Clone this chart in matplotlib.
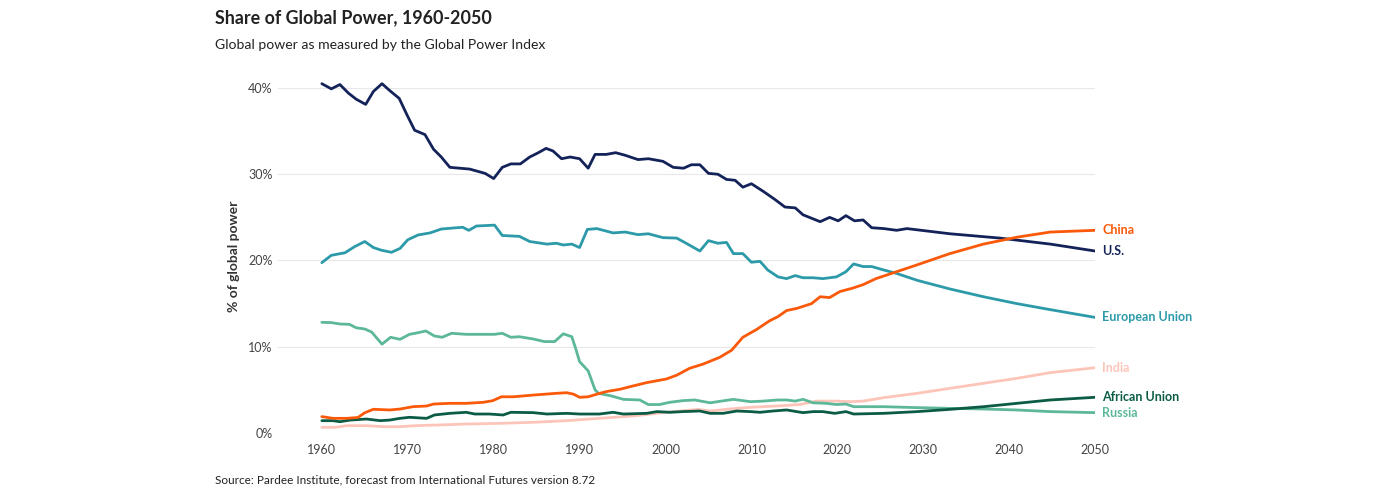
import matplotlib.pyplot as plt
from matplotlib.ticker import FuncFormatter

plt.rcParams['font.family'] = ['Lato', 'DejaVu Sans']

us_years = [1960, 1961.1, 1962.1, 1963.1, 1964, 1965.1, 1966, 1967, 1967.9, 1969, 1969.9, 1970.8, 1972, 1973,
            1973.9, 1974.9, 1977.2, 1979, 1980, 1981, 1982, 1983.1, 1984.2, 1985.2, 1986.1, 1986.9, 1987.9,
            1988.9, 1990, 1991, 1991.8, 1993.1, 1994.2, 1995.3, 1996.8, 1998, 1999.7, 2000.9, 2002.1, 2003,
            2004, 2005, 2006.1, 2007.1, 2008.1, 2009, 2010, 2011.4, 2012.7, 2013.9, 2015.1, 2016, 2017, 2018,
            2019.1, 2020.1, 2021, 2022, 2023, 2024, 2025.4, 2026.9, 2028.1, 2033.1, 2038.9, 2044.8, 2050]
us_vals = [40.5, 39.9, 40.4, 39.4, 38.7, 38.1, 39.6, 40.5, 39.7, 38.8, 36.9, 35.1, 34.6, 32.9, 32.0, 30.8,
           30.6, 30.1, 29.5, 30.8, 31.2, 31.2, 32.0, 32.5, 33.0, 32.7, 31.8, 32.0, 31.8, 30.7, 32.3, 32.3,
           32.5, 32.2, 31.7, 31.8, 31.5, 30.8, 30.7, 31.1, 31.1, 30.1, 30.0, 29.4, 29.3, 28.5, 28.9, 28.0,
           27.1, 26.2, 26.1, 25.3, 24.9, 24.5, 25.0, 24.6, 25.2, 24.6, 24.7, 23.8, 23.7, 23.5, 23.7, 23.1,
           22.6, 21.9, 21.1]

eu_years = [1960, 1961.1, 1962.7, 1963.8, 1965, 1966, 1966.9, 1968.1, 1969.1, 1970, 1971.2, 1972.6, 1973.9,
            1975.7, 1976.4, 1977.1, 1978, 1980.1, 1981, 1983, 1984.2, 1986.2, 1987.3, 1988.1, 1989.1, 1990,
            1990.9, 1992, 1993.9, 1995.3, 1996.8, 1998, 1999.7, 2001.3, 2002.4, 2004, 2005, 2006.1, 2007.1,
            2007.9, 2009, 2010, 2011, 2011.9, 2013.1, 2014.1, 2015.1, 2016, 2017.2, 2018.3, 2019.9, 2021,
            2021.9, 2023, 2024, 2025.4, 2026.9, 2029.3, 2033.1, 2037, 2040.9, 2044.8, 2050]
eu_vals = [19.75, 20.6, 20.9, 21.6, 22.2, 21.5, 21.2, 20.95, 21.4, 22.4, 22.96, 23.2, 23.65, 23.8, 23.85,
           23.5, 24.0, 24.1, 22.9, 22.8, 22.2, 21.9, 22.0, 21.8, 21.9, 21.5, 23.6, 23.7, 23.2, 23.3, 23.0,
           23.1, 22.65, 22.6, 22.0, 21.1, 22.3, 22.0, 22.1, 20.8, 20.8, 19.8, 19.9, 18.9, 18.1, 17.9, 18.25,
           18.0, 18.0, 17.9, 18.1, 18.7, 19.6, 19.3, 19.3, 18.9, 18.5, 17.7, 16.7, 15.8, 15.0, 14.3, 13.4]

china_years = [1960, 1961.3, 1962.9, 1964.2, 1965, 1966, 1967.9, 1969.1, 1970.6, 1972.2, 1973, 1974.9, 1976.8,
               1978.8, 1979.9, 1980.9, 1982.3, 1984.6, 1987.3, 1988.5, 1989.3, 1990, 1991, 1992, 1993.1,
               1994.7, 1996.2, 1997.8, 2000.1, 2001.3, 2002.8, 2004.4, 2006.3, 2007.7, 2009, 2010.6, 2012.1,
               2013.1, 2014.1, 2015.3, 2017, 2018, 2019.1, 2020.3, 2021.8, 2023, 2024.5, 2026.9, 2029.3,
               2033.1, 2037, 2040.9, 2044.8, 2050]
china_vals = [1.9, 1.7, 1.7, 1.8, 2.35, 2.75, 2.67, 2.78, 3.05, 3.13, 3.36, 3.44, 3.44, 3.56, 3.75, 4.2, 4.2,
              4.4, 4.6, 4.67, 4.5, 4.14, 4.2, 4.5, 4.8, 5.07, 5.45, 5.84, 6.26, 6.7, 7.5, 8.0, 8.77, 9.6,
              11.1, 12.0, 13.0, 13.5, 14.2, 14.45, 15.0, 15.8, 15.7, 16.4, 16.8, 17.2, 17.9, 18.7, 19.5, 20.8,
              21.9, 22.7, 23.3, 23.5]

russia_years = [1960, 1961.1, 1962.1, 1963.2, 1964, 1965, 1965.8, 1966.4, 1967, 1968, 1969.1, 1970.2, 1971.2,
                1972.1, 1973.1, 1974, 1975.1, 1976.8, 1978.8, 1980.1, 1981, 1982, 1983, 1984.6, 1985.9,
                1987.1, 1988.1, 1989.1, 1989.6, 1990, 1991, 1991.8, 1992.2, 1993.7, 1995.1, 1997, 1998,
                1999.3, 2000.5, 2002, 2003.4, 2005.2, 2006.5, 2007.9, 2009.9, 2011.4, 2013, 2014.1, 2015.1,
                2016, 2017.2, 2018.7, 2019.9, 2021, 2021.9, 2025.4, 2029.3, 2037, 2040.9, 2044.8, 2050]
russia_vals = [12.83, 12.8, 12.64, 12.6, 12.2, 12.06, 11.7, 11.0, 10.3, 11.1, 10.86, 11.44, 11.63, 11.83,
               11.25, 11.1, 11.56, 11.44, 11.44, 11.44, 11.56, 11.1, 11.16, 10.9, 10.6, 10.6, 11.5, 11.16,
               9.6, 8.27, 7.2, 5.0, 4.6, 4.3, 3.9, 3.83, 3.3, 3.3, 3.56, 3.75, 3.83, 3.5, 3.7, 3.9, 3.63,
               3.7, 3.83, 3.83, 3.7, 3.9, 3.5, 3.44, 3.3, 3.36, 3.05, 3.05, 2.94, 2.78, 2.67, 2.48, 2.36]

au_years = [1960, 1961.3, 1962.1, 1963.3, 1965.2, 1966.8, 1967.9, 1969.1, 1970.2, 1972.2, 1973.1, 1974.9,
            1976.8, 1977.8, 1979.5, 1981.1, 1982, 1984.6, 1986.2, 1988.5, 1990, 1992.3, 1993.9, 1995.1,
            1997.8, 1999, 2000.5, 2002, 2004, 2005.2, 2006.7, 2008.3, 2009.9, 2011, 2012.5, 2014.1, 2016,
            2017.2, 2018.3, 2019.7, 2021, 2021.9, 2025.4, 2029.3, 2033.1, 2037, 2040.9, 2044.8, 2050]
au_vals = [1.43, 1.43, 1.31, 1.5, 1.62, 1.43, 1.5, 1.7, 1.82, 1.7, 2.09, 2.28, 2.4, 2.2, 2.2, 2.09, 2.4, 2.36,
           2.2, 2.28, 2.2, 2.2, 2.4, 2.2, 2.28, 2.48, 2.4, 2.48, 2.55, 2.28, 2.28, 2.55, 2.48, 2.4, 2.55,
           2.67, 2.36, 2.48, 2.48, 2.28, 2.48, 2.2, 2.28, 2.48, 2.74, 3.05, 3.44, 3.83, 4.14]

india_years = [1960, 1961.6, 1962.9, 1965.2, 1967.2, 1969, 1970.9, 1973.6, 1976.8, 1980.7, 1984.6, 1988.5,
               1992.3, 1996.2, 2000.1, 2003.8, 2005.2, 2008.3, 2009.9, 2013.7, 2015.7, 2017.6, 2019.9,
               2021.5, 2023, 2025.4, 2029.3, 2033.1, 2037, 2040.9, 2044.8, 2050]
india_vals = [0.66, 0.66, 0.85, 0.85, 0.73, 0.73, 0.85, 0.93, 1.04, 1.12, 1.24, 1.43, 1.7, 1.97, 2.4, 2.74,
              2.55, 2.86, 2.98, 3.17, 3.32, 3.7, 3.7, 3.63, 3.7, 4.1, 4.6, 5.18, 5.76, 6.34, 7.0, 7.57]

# name, years, values, colour (drawing order back to front)
series = [
    ("India", india_years, india_vals, "#fdc5b9"),
    ("Russia", russia_years, russia_vals, "#5cb898"),
    ("African Union", au_years, au_vals, "#0c5c45"),
    ("European Union", eu_years, eu_vals, "#2c9aa9"),
    ("U.S.", us_years, us_vals, "#14225a"),
    ("China", china_years, china_vals, "#fa5909"),
]

fig = plt.figure(figsize=(14, 4.93), dpi=100)
ax = fig.add_axes([0.1986, 0.1217, 0.5836, 0.7173])

for name, yrs, vals, col in series:
    ax.plot(yrs, vals, color=col, lw=2.0, solid_capstyle="round", solid_joinstyle="round")
    ax.annotate(name, xy=(2050, vals[-1]), xytext=(5, 0), textcoords="offset points",
                va="center", ha="left", fontsize=9, fontweight="bold", color=col,
                annotation_clip=False)

ax.set_xlim(1954.9, 2050)
ax.set_ylim(0, 41)
ax.set_xticks(range(1960, 2051, 10))
ax.set_yticks([0, 10, 20, 30, 40])
ax.yaxis.set_major_formatter(FuncFormatter(lambda v, p: f"{v:.0f}%"))
ax.grid(axis="y", color="#e8e8e8", lw=0.8)
ax.set_axisbelow(True)
for s in ax.spines.values():
    s.set_visible(False)
ax.tick_params(length=0, labelsize=9, labelcolor="#444444")
ax.tick_params(axis="x", pad=8)
ax.tick_params(axis="y", pad=4)
ax.set_ylabel("% of global power", fontsize=10, fontweight="bold", color="#333333", labelpad=6)

fig.text(215 / 1400, 1 - 18 / 493, "Share of Global Power, 1960-2050", fontsize=12.9, fontweight="bold",
         color="#222222", va="center", ha="left")
fig.text(215 / 1400, 1 - 45 / 493, "Global power as measured by the Global Power Index", fontsize=10.1,
         color="#222222", va="center", ha="left")
fig.text(215 / 1400, 1 - 480 / 493, "Source: Pardee Institute, forecast from International Futures version 8.72",
         fontsize=8.5, color="#222222", va="center", ha="left")

fig.savefig("out.png", dpi=100)
